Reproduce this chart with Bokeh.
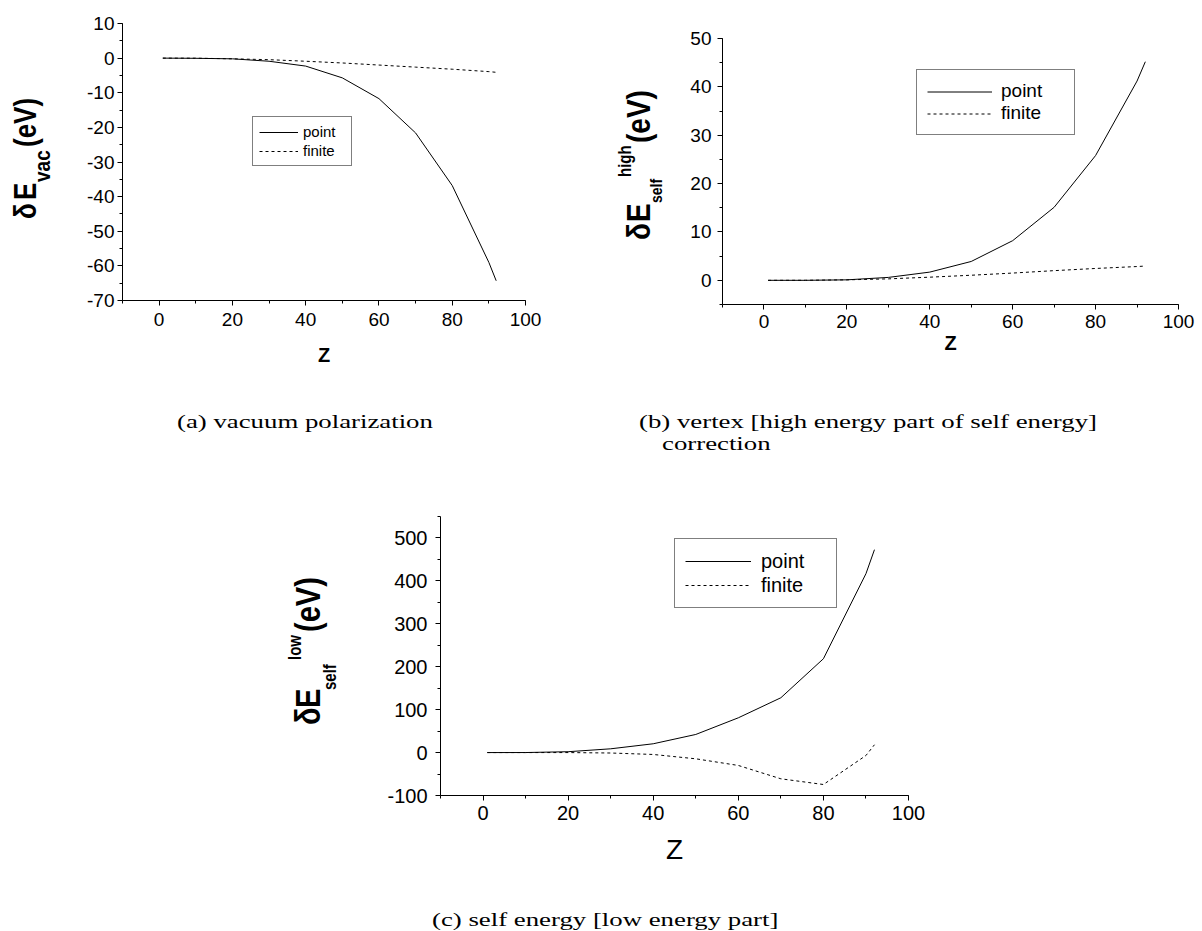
from bokeh.plotting import figure
from bokeh.models import (Legend, LegendItem, SingleIntervalTicker, Range1d,
                          Div, PrintfTickFormatter)
from bokeh.layouts import column, row
from bokeh.embed import file_html
from bokeh.resources import INLINE

# ---------------- data ----------------
Z = [1, 10, 20, 30, 40, 50, 60, 70, 80, 90, 92]

vac_point = [0.0, -0.05, -0.2, -0.9, -2.3, -5.7, -11.7, -21.6, -36.8, -59.0, -64.3]
vac_finite = [0.0, -0.02, -0.2, -0.45, -0.9, -1.4, -2.0, -2.6, -3.2, -3.9, -4.1]

high_point = [0.0, 0.0, 0.1, 0.6, 1.7, 3.9, 8.2, 15.1, 25.8, 41.2, 45.2]
high_finite = [0.0, 0.01, 0.1, 0.3, 0.65, 1.05, 1.5, 2.0, 2.45, 2.85, 2.95]

low_point = [0.0, 0.1, 2.0, 8.8, 20.5, 42.2, 81.0, 127.7, 218.6, 416.8, 472.7]
low_finite = [0.0, 0.0, 0.0, -1.0, -4.4, -14.5, -30.0, -61.1, -74.4, -6.8, 18.2]

series_names = ["point", "finite"]
x_range_limits = (-10, 100)
y_limits_a = (-70, 10)
y_limits_b = (-5, 50)
y_limits_c = (-100, 550)

captions = ["(a) vacuum polarization",
            "(b) vertex [high energy part of self energy]",
            "correction",
            "(c) self energy [low energy part]"]

SANS = "Liberation Sans"
SERIF = "Liberation Serif"
STRETCH = 1.2       # the reference's glyphs are a little wider than tall
CAP_STRETCH = 1.41  # caption text is drawn wide in the reference


def make_panel(width, height, bl, br, bt, bb, ylim, ytick, ypt, yfin,
               tick_fs, xstand, ystand, xlabel, xl_fs, xl_style, xl_stand, leg):
    p = figure(width=width, height=height,
               x_range=Range1d(*x_range_limits), y_range=Range1d(*ylim),
               output_backend="svg", toolbar_location=None,
               min_border_left=bl, min_border_right=br,
               min_border_top=bt, min_border_bottom=bb)
    try:
        p.frame_align = False
    except Exception:
        pass
    p.margin = 0
    p.grid.visible = False
    p.outline_line_color = None
    p.background_fill_color = "white"
    p.border_fill_color = "white"

    p.xaxis.ticker = SingleIntervalTicker(interval=20, num_minor_ticks=2)
    p.yaxis.ticker = SingleIntervalTicker(interval=ytick, num_minor_ticks=2)
    for ax, st in ((p.xaxis[0], xstand), (p.yaxis[0], ystand)):
        ax.formatter = PrintfTickFormatter(format="%d")
        ax.axis_line_color = "black"
        ax.axis_line_width = 1
        ax.major_tick_line_color = "black"
        ax.minor_tick_line_color = "black"
        ax.major_tick_out = 5
        ax.major_tick_in = 0
        ax.minor_tick_out = 3
        ax.minor_tick_in = 0
        ax.major_label_text_font = SANS
        ax.major_label_text_font_size = tick_fs
        ax.major_label_text_color = "black"
        ax.major_label_standoff = st
    xa = p.xaxis[0]
    xa.axis_label = xlabel
    xa.axis_label_text_font = SANS
    xa.axis_label_text_font_size = xl_fs
    xa.axis_label_text_font_style = xl_style
    xa.axis_label_text_color = "black"
    xa.axis_label_standoff = xl_stand

    r1 = p.line(Z, ypt, line_color="black", line_width=1)
    r2 = p.line(Z, yfin, line_color="black", line_width=1, line_dash="3 3")

    legend = Legend(items=[LegendItem(label=series_names[0], renderers=[r1]),
                           LegendItem(label=series_names[1], renderers=[r2])],
                    location=leg["loc"], orientation="vertical")
    legend.margin = 0
    legend.padding = leg["padding"]
    legend.spacing = leg["spacing"]
    legend.glyph_width = leg["gw"]
    legend.glyph_height = leg["lh"]
    legend.label_height = leg["lh"]
    legend.label_width = leg["lw"]
    legend.label_standoff = leg["standoff"]
    legend.label_text_font = SANS
    legend.label_text_font_size = leg["fs"]
    legend.label_text_color = "black"
    legend.border_line_color = "black"
    legend.border_line_width = 1
    legend.background_fill_color = "white"
    legend.background_fill_alpha = 1
    p.add_layout(legend)
    return p


def vpiece(text, xb, ys, fs):
    """vertical (reading upward) bold sans text; xb = baseline x, ys = start y"""
    left = xb - 0.8465 * fs * STRETCH
    return ('<div style="position:absolute;left:%.1fpx;top:%.1fpx;white-space:nowrap;'
            'font-family:\'%s\';font-weight:bold;font-size:%dpx;line-height:%dpx;'
            'height:%dpx;color:black;transform-origin:0 0;'
            'transform:scaleX(%.2f) rotate(-90deg);">%s</div>'
            % (left, ys, SANS, fs, fs, fs, STRETCH, text))


def hpiece(text, xl, yb, fs):
    top = yb - 0.8375 * fs
    return ('<div style="position:absolute;left:%.1fpx;top:%.1fpx;white-space:nowrap;'
            'font-family:\'%s\';font-size:%dpx;line-height:%dpx;height:%dpx;'
            'color:black;transform-origin:0 0;transform:scaleX(%.2f);">%s</div>'
            % (xl, top, SERIF, fs, fs, fs, CAP_STRETCH, text))


def text_div(w, h, pieces):
    html = ('<div style="position:relative;width:%dpx;height:%dpx;overflow:visible;">%s</div>'
            % (w, h, "".join(pieces)))
    return Div(text=html, width=w, height=h, margin=(0, 0, 0, 0))


# ---------------- panel (a) ----------------
pa = make_panel(498, 372, 60, 35, 23, 72, y_limits_a, 10,
                vac_point, vac_finite, "19px", 7, 3, "Z", "20px", "bold", 15,
                dict(loc=(130, 134), padding=6, spacing=2, gw=39, lh=16,
                     lw=42, standoff=5, fs="15px"))
div_a = text_div(62, 372, [
    vpiece("\u03b4", 36.7, 219, 26),
    vpiece("E", 36.7, 200, 26),
    vpiece("vac", 50, 181.7, 19),
    vpiece("(eV)", 36.7, 146.7, 26),
])

# ---------------- panel (b) ----------------
pb = make_panel(532, 372, 52, 24, 38, 68, y_limits_b, 10,
                high_point, high_finite, "19px", 5, 6, "Z", "20px", "bold", 1,
                dict(loc=(194, 169), padding=10, spacing=0, gw=65, lh=21,
                     lw=63, standoff=9, fs="19px"))
div_b = text_div(110, 372, [
    vpiece("\u03b4", 90, 240, 28),
    vpiece("E", 90, 222, 28),
    vpiece("self", 101.7, 203, 14),
    vpiece("high", 70, 177, 15),
    vpiece("(eV)", 90, 143, 28),
])

cap1 = text_div(1202, 88, [
    hpiece(captions[0], 177, 56, 19),
    hpiece(captions[1], 639, 56, 19),
    hpiece(captions[2], 662, 78, 19),
])

# ---------------- panel (c) ----------------
pc = make_panel(857, 420, 95, 294, 56, 85, y_limits_c, 100,
                low_point, low_finite, "20px", 5, 8, "Z", "28px", "normal", 11,
                dict(loc=(234, 187), padding=10, spacing=0, gw=66, lh=24,
                     lw=65, standoff=10, fs="20px"))
div_c = text_div(345, 420, [
    vpiece("\u03b4", 320, 265, 29),
    vpiece("E", 320, 248, 29),
    vpiece("self", 335, 230, 15),
    vpiece("low", 300, 200, 15),
    vpiece("(eV)", 320, 171.7, 29),
])

cap2 = text_div(1202, 49, [
    hpiece(captions[3], 432, 46, 19),
])

layout = column(row(div_a, pa, div_b, pb), cap1, row(div_c, pc), cap2)
open("out.html", "w").write(file_html(layout, INLINE))
